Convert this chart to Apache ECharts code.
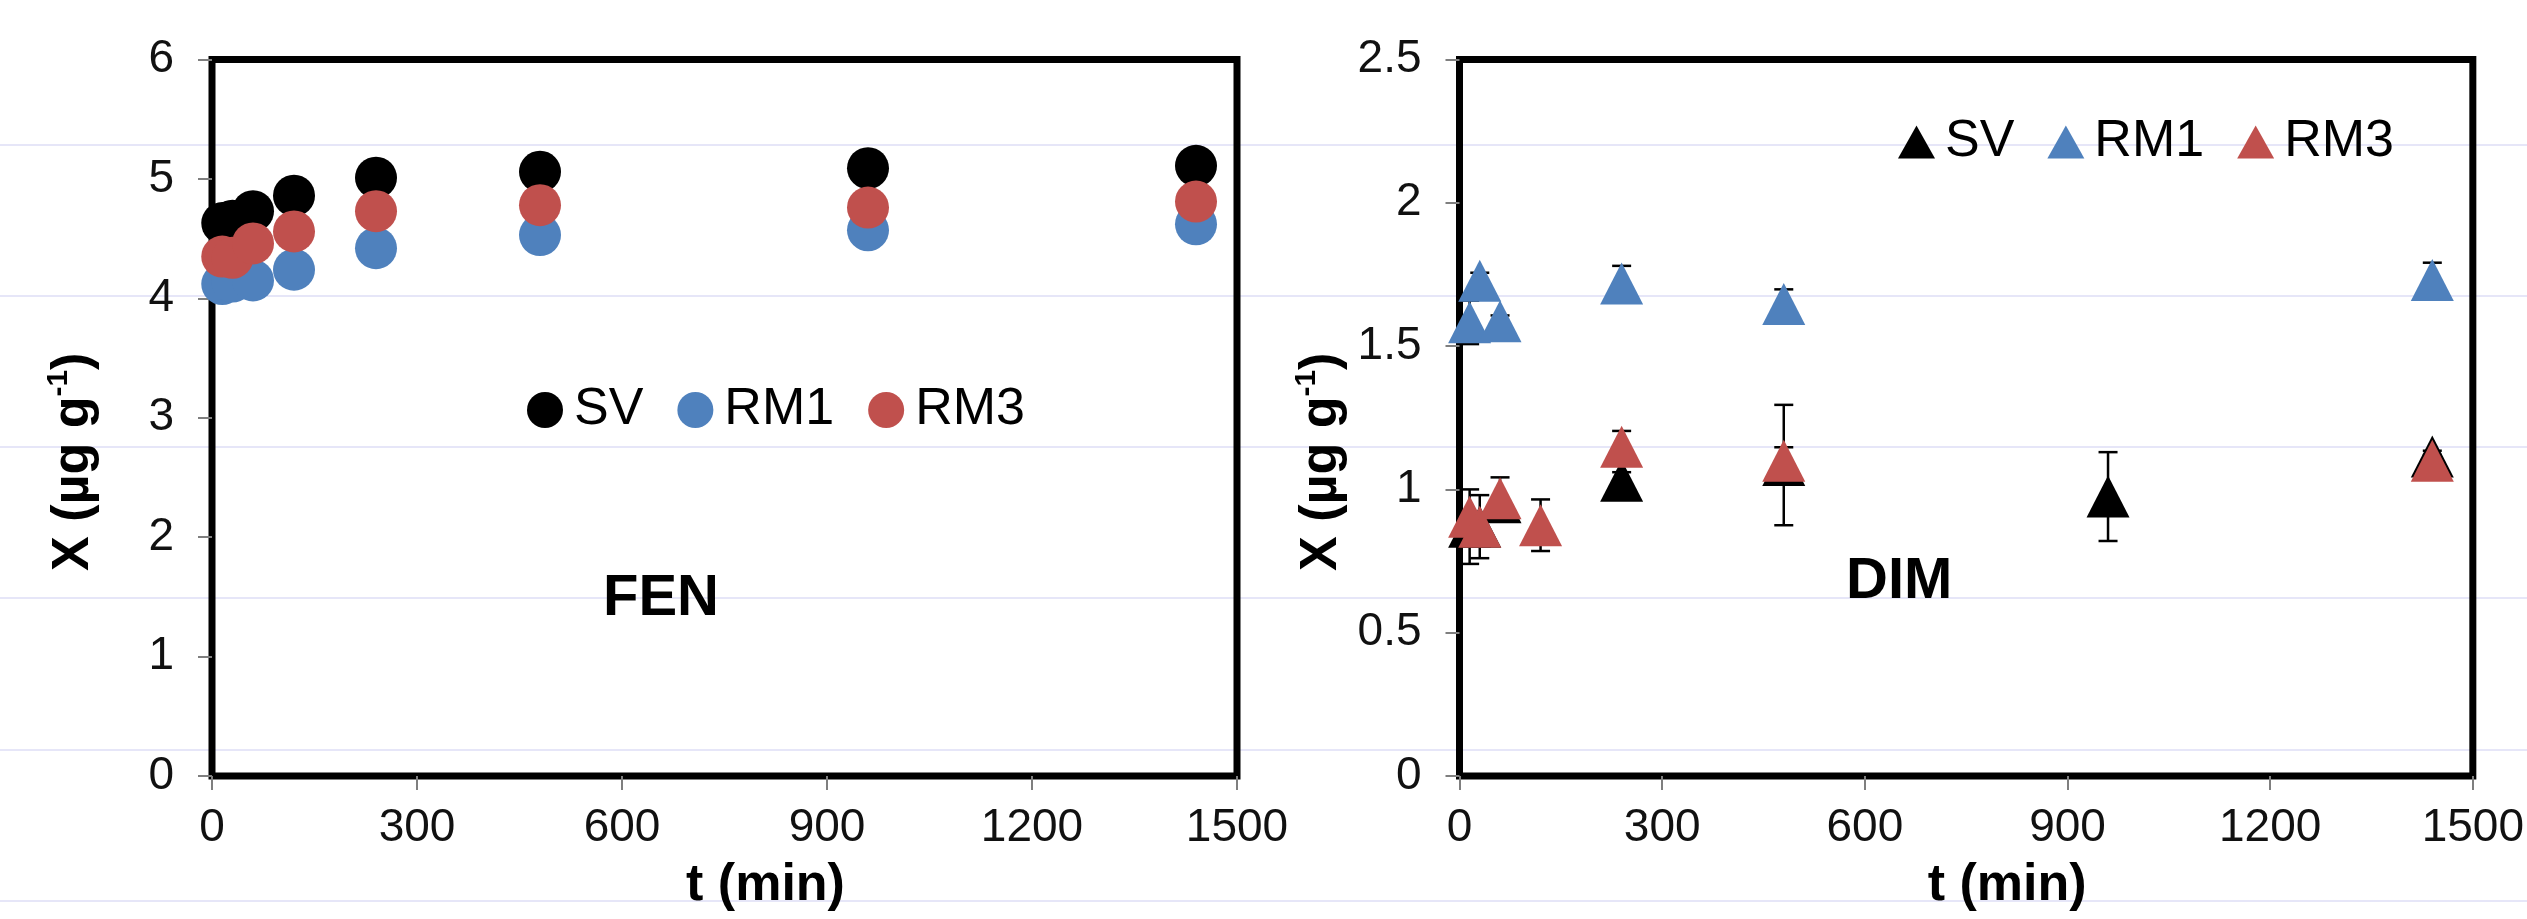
<!DOCTYPE html>
<html>
<head>
<meta charset="utf-8">
<script src="https://cdn.jsdelivr.net/npm/echarts@6/dist/echarts.min.js"></script>
<style>
html,body{margin:0;padding:0;background:#fff;}
#chart{width:2527px;height:919px;}
</style>
</head>
<body>
<div id="chart"></div>
<script>
// ---------- data ----------
const seriesNames = ['SV', 'RM1', 'RM3'];
const xTicks = [0, 300, 600, 900, 1200, 1500];

// FEN (left panel)
const fenTime = [15, 30, 60, 120, 240, 480, 960, 1440];
const fenSV  = [4.63, 4.65, 4.73, 4.86, 5.01, 5.06, 5.09, 5.11];
const fenRM1 = [4.12, 4.14, 4.15, 4.24, 4.42, 4.53, 4.57, 4.62];
const fenRM3 = [4.35, 4.34, 4.46, 4.56, 4.73, 4.78, 4.76, 4.81];

// DIM (right panel)
const dimSVTime  = [15, 30, 60, 240, 480, 960, 1440];
const dimSV      = [0.87, 0.87, 0.955, 1.03, 1.085, 0.975, 1.115];
const dimSVErr   = [0.13, 0.11, 0, 0.03, 0.21, 0.155, 0.02];
const dimRM1Time = [15, 30, 60, 240, 480, 1440];
const dimRM1     = [1.583, 1.728, 1.587, 1.718, 1.647, 1.731];
const dimRM1Err  = [0.076, 0.028, 0.02, 0.062, 0.051, 0.06];
const dimRM3Time = [15, 30, 60, 120, 240, 480, 1440];
const dimRM3     = [0.905, 0.87, 0.969, 0.875, 1.149, 1.10, 1.10];
const dimRM3Err  = [0, 0, 0.073, 0.09, 0.055, 0.047, 0.02];

const colors = {SV: '#000000', RM1: '#4f81bd', RM3: '#c0504d'};

// ---------- helpers ----------
const FONT = "'Liberation Sans', Arial, sans-serif";
const zip = (xs, ys) => xs.map((x, i) => [x, ys[i]]);
const zip3 = (xs, ys, es) => xs.map((x, i) => [x, ys[i], es[i]]);

function errRender(params, api) {
  const t = api.value(0), v = api.value(1), e = api.value(2);
  if (!e) return null;
  const hi = api.coord([t, v + e]);
  const lo = api.coord([t, v - e]);
  const w = 9.5;
  const style = {stroke: '#000', lineWidth: 2.5};
  return {type: 'group', children: [
    {type: 'line', shape: {x1: hi[0], y1: hi[1], x2: lo[0], y2: lo[1]}, style: style},
    {type: 'line', shape: {x1: hi[0] - w, y1: hi[1], x2: hi[0] + w, y2: hi[1]}, style: style},
    {type: 'line', shape: {x1: lo[0] - w, y1: lo[1], x2: lo[0] + w, y2: lo[1]}, style: style}
  ]};
}

const gridCommon = {show: true, borderColor: '#000', borderWidth: 7, backgroundColor: 'transparent'};

function xAxisCfg(gridIndex) {
  return {
    type: 'value', gridIndex: gridIndex, min: xTicks[0], max: xTicks[xTicks.length - 1], interval: 300,
    axisLine: {show: false},
    axisTick: {show: true, inside: false, length: 14, lineStyle: {color: '#7f7f7f', width: 2}},
    splitLine: {show: false},
    axisLabel: {fontSize: 46, color: '#111', fontFamily: FONT, margin: 29, formatter: v => String(v)},
    name: 't (min)', nameLocation: 'middle', nameGap: 84,
    nameTextStyle: {fontSize: 52, fontWeight: 'bold', color: '#000', fontFamily: FONT, padding: [0, 0, 0, 82]}
  };
}
function yAxisCfg(gridIndex, max, interval) {
  return {
    type: 'value', gridIndex: gridIndex, min: 0, max: max, interval: interval,
    axisLine: {show: false},
    axisTick: {show: true, inside: false, length: 14, lineStyle: {color: '#7f7f7f', width: 2}},
    splitLine: {show: false},
    axisLabel: {fontSize: 46, color: '#111', fontFamily: FONT, margin: 38, formatter: v => String(v)},
    name: '{b|X (µg g}{s|-1}{b|)}', nameLocation: 'middle', nameGap: 112,
    nameTextStyle: {
      color: '#000', fontFamily: FONT, padding: [0, 88, 0, 0],
      rich: {
        b: {fontSize: 52, fontWeight: 'bold', fontFamily: FONT, color: '#000', lineHeight: 62, verticalAlign: 'bottom'},
        s: {fontSize: 30, fontWeight: 'bold', fontFamily: FONT, color: '#000', lineHeight: 62, verticalAlign: 'top', padding: [6, 0, 0, 0]}
      }
    }
  };
}

// background ruled lines (decoration)
const ruleY = [145, 296, 447, 598, 750, 901];
const graphics = ruleY.map(y => ({
  type: 'line', z: -10, silent: true,
  shape: {x1: 0, y1: y, x2: 2527, y2: y},
  style: {stroke: '#e6e6f8', lineWidth: 2}
}));

const fenData = {SV: fenSV, RM1: fenRM1, RM3: fenRM3};
const dimData = {
  SV: [dimSVTime, dimSV, dimSVErr],
  RM1: [dimRM1Time, dimRM1, dimRM1Err],
  RM3: [dimRM3Time, dimRM3, dimRM3Err]
};

const series = [];
seriesNames.forEach(n => {
  series.push({
    name: n, type: 'scatter', xAxisIndex: 0, yAxisIndex: 0, z: 3,
    symbol: 'circle', symbolSize: 42,
    itemStyle: {color: colors[n], opacity: 1},
    data: zip(fenTime, fenData[n])
  });
});
seriesNames.forEach(n => {
  const d = dimData[n];
  series.push({
    name: n + ' error', type: 'custom', xAxisIndex: 1, yAxisIndex: 1, z: 2,
    renderItem: errRender, data: zip3(d[0], d[1], d[2])
  });
  series.push({
    name: n, type: 'scatter', xAxisIndex: 1, yAxisIndex: 1, z: 3,
    symbol: 'triangle', symbolSize: [43, 42],
    itemStyle: {color: colors[n], opacity: 1},
    data: zip(d[0], d[1])
  });
});

const chart = echarts.init(document.getElementById('chart'), null, {renderer: 'canvas'});
chart.setOption({
  animation: false,
  backgroundColor: '#ffffff',
  graphic: graphics,
  title: [
    {text: 'FEN', left: 603, top: 570, padding: 0,
     textStyle: {fontSize: 58, fontWeight: 'bold', color: '#000', fontFamily: FONT}},
    {text: 'DIM', left: 1846, top: 553, padding: 0,
     textStyle: {fontSize: 58, fontWeight: 'bold', color: '#000', fontFamily: FONT}}
  ],
  legend: [
    {data: seriesNames, left: 527, top: 384, padding: 0, icon: 'circle',
     itemWidth: 36, itemHeight: 36, itemGap: 34,
     textStyle: {fontSize: 52, color: '#000', fontFamily: FONT, lineHeight: 50, padding: [0, 0, 0, 6]}},
    {data: seriesNames, left: 1898, top: 116, padding: 0, icon: 'triangle',
     itemWidth: 37, itemHeight: 33, itemGap: 33,
     textStyle: {fontSize: 52, color: '#000', fontFamily: FONT, lineHeight: 50, padding: [0, 0, 0, 5]}}
  ],
  grid: [
    Object.assign({left: 212, top: 59.5, width: 1025, height: 716.5}, gridCommon),
    Object.assign({left: 1459.5, top: 59.5, width: 1024, height: 716.5}, gridCommon)
  ],
  xAxis: [xAxisCfg(0), xAxisCfg(1)],
  yAxis: [yAxisCfg(0, 6, 1), yAxisCfg(1, 2.5, 0.5)],
  series: series
});
</script>
</body>
</html>
